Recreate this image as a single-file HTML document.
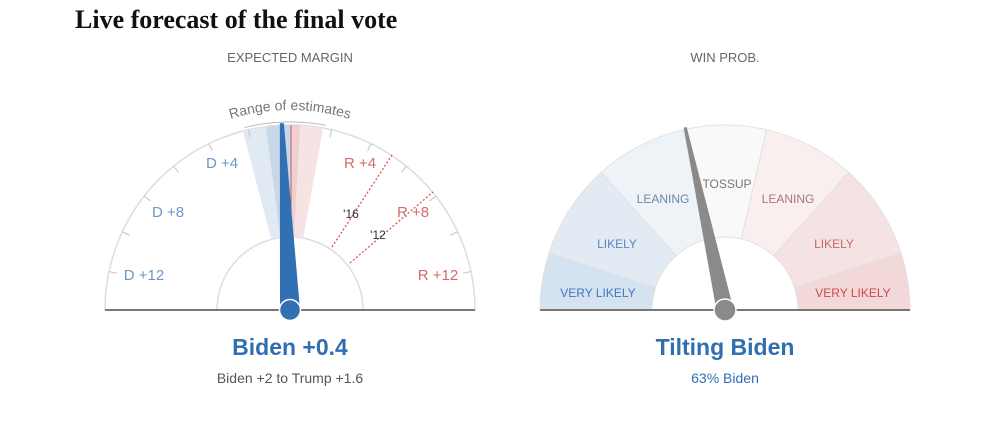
<!DOCTYPE html>
<html><head><meta charset="utf-8"><style>
html,body{margin:0;padding:0;background:#fff;width:1000px;height:433px;overflow:hidden}
text{font-family:"Liberation Sans",sans-serif}
</style></head><body>
<svg width="1000" height="433" viewBox="0 0 1000 433" xmlns="http://www.w3.org/2000/svg">
<text x="75" y="28" style="font-family:'Liberation Serif',serif" font-size="26" font-weight="bold" fill="#111">Live forecast of the final vote</text>
<text x="290" y="62" font-size="13" fill="#666" text-anchor="middle">EXPECTED MARGIN</text>
<text x="725" y="62" font-size="13" fill="#666" text-anchor="middle">WIN PROB.</text>

<path d="M105 310 A185 185 0 0 1 475 310" fill="none" stroke="#ddd" stroke-width="1.5"/>
<path d="M217 310 A73 73 0 0 1 363 310" fill="none" stroke="#ddd" stroke-width="1.5"/>
<path d="M242.8 131.1 A185 185 0 0 1 290 125 L290 237 A73 73 0 0 0 271.4 239.4 Z" fill="#e1e9f2"/>
<path d="M290 125 A185 185 0 0 1 323.1 128 L303.1 238.2 A73 73 0 0 0 290 237 Z" fill="#f6e3e3"/>
<path d="M265.9 126.6 A185 185 0 0 1 290 125 L290 237 A73 73 0 0 0 280.5 237.6 Z" fill="#c9d8e8"/>
<path d="M290 125 A185 185 0 0 1 300 125.3 L294 237.1 A73 73 0 0 0 290 237 Z" fill="#efcfcf"/>
<line x1="291" y1="125" x2="291" y2="237" stroke="#b06060" stroke-width="1"/>
<g stroke="#ccc" stroke-width="1.2">
<line x1="290" y1="125" x2="290" y2="133" transform="rotate(-13 290 310)"/>
<line x1="290" y1="125" x2="290" y2="133" transform="rotate(-26 290 310)"/>
<line x1="290" y1="125" x2="290" y2="133" transform="rotate(-39 290 310)"/>
<line x1="290" y1="125" x2="290" y2="133" transform="rotate(-52 290 310)"/>
<line x1="290" y1="125" x2="290" y2="133" transform="rotate(-65 290 310)"/>
<line x1="290" y1="125" x2="290" y2="133" transform="rotate(-78 290 310)"/>
<line x1="290" y1="125" x2="290" y2="133" transform="rotate(13 290 310)"/>
<line x1="290" y1="125" x2="290" y2="133" transform="rotate(26 290 310)"/>
<line x1="290" y1="125" x2="290" y2="133" transform="rotate(39 290 310)"/>
<line x1="290" y1="125" x2="290" y2="133" transform="rotate(52 290 310)"/>
<line x1="290" y1="125" x2="290" y2="133" transform="rotate(65 290 310)"/>
<line x1="290" y1="125" x2="290" y2="133" transform="rotate(78 290 310)"/>
</g>
<line x1="332" y1="247" x2="392" y2="155" stroke="#d04848" stroke-width="1.2" stroke-dasharray="2,2"/>
<line x1="350" y1="263" x2="433" y2="192" stroke="#d04848" stroke-width="1.2" stroke-dasharray="2,2"/>
<g font-size="15" text-anchor="middle">
<text x="222" y="168" fill="#6a98cc">D +4</text>
<text x="168" y="217" fill="#6a98cc">D +8</text>
<text x="144" y="280" fill="#6a98cc">D +12</text>
<text x="360" y="168" fill="#d46a6a">R +4</text>
<text x="413" y="217" fill="#d46a6a">R +8</text>
<text x="438" y="280" fill="#d46a6a">R +12</text>
</g>
<text x="351" y="218" font-size="12" fill="#333" text-anchor="middle">'16</text>
<text x="378" y="239" font-size="12" fill="#333" text-anchor="middle">'12</text>
<defs><path id="rarc" d="M221.6 122 A200 200 0 0 1 358.4 122"/></defs>
<text font-size="14" fill="#777"><textPath href="#rarc" startOffset="50%" text-anchor="middle">Range of estimates</textPath></text>
<path d="M244.5 127.6 A188 188 0 0 1 325.9 125.4" fill="none" stroke="#bbb" stroke-width="1"/>
<line x1="105" y1="310" x2="475" y2="310" stroke="#777" stroke-width="2"/>
<polygon points="280,310 288,123 292,123 300,310" fill="#3070b3" transform="rotate(-2.5 290 310)"/>
<circle cx="290" cy="310" r="10.5" fill="#3070b3" stroke="#fff" stroke-width="1.5"/>

<g stroke="#e2e2e2" stroke-width="1">
<path d="M540 310 A185 185 0 0 1 549.1 252.8 L655.6 287.4 A73 73 0 0 0 652 310 Z" fill="#d5e2f0"/>
<path d="M549.1 252.8 A185 185 0 0 1 601.2 172.5 L676.2 255.8 A73 73 0 0 0 655.6 287.4 Z" fill="#e2eaf4"/>
<path d="M601.2 172.5 A185 185 0 0 1 683.4 129.8 L708.6 238.9 A73 73 0 0 0 676.2 255.8 Z" fill="#eef3f8"/>
<path d="M683.4 129.8 A185 185 0 0 1 766.6 129.8 L741.4 238.9 A73 73 0 0 0 708.6 238.9 Z" fill="#f9f9f9"/>
<path d="M766.6 129.8 A185 185 0 0 1 848.8 172.5 L773.8 255.8 A73 73 0 0 0 741.4 238.9 Z" fill="#f9efef"/>
<path d="M848.8 172.5 A185 185 0 0 1 900.9 252.8 L794.4 287.4 A73 73 0 0 0 773.8 255.8 Z" fill="#f5e3e3"/>
<path d="M900.9 252.8 A185 185 0 0 1 910 310 L798 310 A73 73 0 0 0 794.4 287.4 Z" fill="#f2d8d8"/>
</g>
<g font-size="12" text-anchor="middle">
<text x="598" y="297" fill="#3f78bd">VERY LIKELY</text>
<text x="617" y="248" fill="#5a88bb">LIKELY</text>
<text x="663" y="203" fill="#6d88a6">LEANING</text>
<text x="727" y="188" fill="#777">TOSSUP</text>
<text x="788" y="203" fill="#a87878">LEANING</text>
<text x="834" y="248" fill="#c46a6a">LIKELY</text>
<text x="853" y="297" fill="#cc4a4a">VERY LIKELY</text>
</g>
<line x1="540" y1="310" x2="910" y2="310" stroke="#777" stroke-width="2"/>
<polygon points="716.5,310 723.5,123 726.5,123 733.5,310" fill="#8a8a8a" transform="rotate(-12.3 725 310)"/>
<circle cx="725" cy="310" r="11" fill="#8a8a8a" stroke="#fff" stroke-width="1.5"/>

<text x="290" y="355" font-size="23" font-weight="bold" fill="#2f6fb1" text-anchor="middle">Biden +0.4</text>
<text x="290" y="383" font-size="14" fill="#555" text-anchor="middle">Biden +2 to Trump +1.6</text>
<text x="725" y="355" font-size="23" font-weight="bold" fill="#2f6fb1" text-anchor="middle">Tilting Biden</text>
<text x="725" y="383" font-size="14" fill="#2f6fb1" text-anchor="middle">63% Biden</text>
</svg>
</body></html>
